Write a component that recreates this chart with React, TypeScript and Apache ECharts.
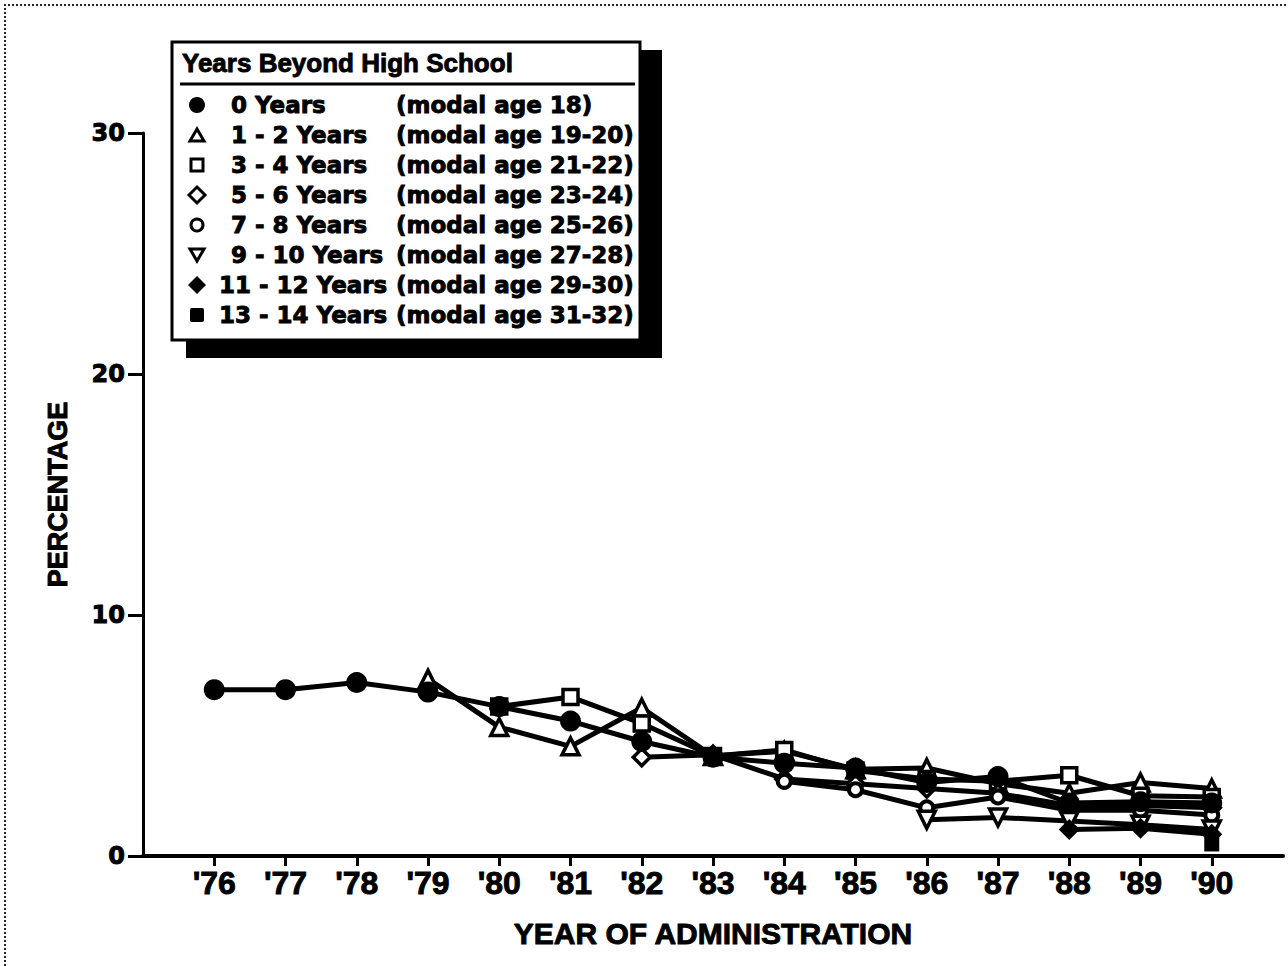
import React, { useEffect, useRef } from "react";
import * as echarts from "echarts";

// ---------- data ----------
const years = ["'76", "'77", "'78", "'79", "'80", "'81", "'82", "'83", "'84", "'85", "'86", "'87", "'88", "'89", "'90"];
const yTicks = [0, 10, 20, 30];

const zeroYears = [6.9, 6.9, 7.2, 6.8, 6.2, 5.6, 4.75, 4.1, 3.85, 3.65, 3.05, 3.3, 2.2, 2.25, 2.2];
const oneTwoYears = [null, null, null, 7.35, 5.35, 4.55, 6.15, 4.15, 4.35, 3.6, 3.65, 3.0, 2.6, 3.05, 2.8];
const threeFourYears = [null, null, null, null, 6.2, 6.6, 5.5, 4.15, 4.4, 3.55, 3.2, 3.1, 3.35, 2.5, 2.45];
const fiveSixYears = [null, null, null, null, null, null, 4.1, 4.2, 3.2, 3.0, 2.8, 2.6, 2.1, 2.1, 2.0];
const sevenEightYears = [null, null, null, null, null, null, null, null, 3.1, 2.75, 2.0, 2.45, 1.9, 1.9, 1.7];
const nineTenYears = [null, null, null, null, null, null, null, null, null, null, 1.5, 1.6, 1.45, 1.3, 1.1];
const elevenTwelveYears = [null, null, null, null, null, null, null, null, null, null, null, null, 1.1, 1.15, 0.9];
const thirteenFourteenYears = [null, null, null, null, null, null, null, null, null, null, null, null, null, null, 0.5];

const groupNames = ["0 Years", "1 - 2 Years", "3 - 4 Years", "5 - 6 Years", "7 - 8 Years", "9 - 10 Years", "11 - 12 Years", "13 - 14 Years"];
const modalAges = ["(modal age 18)", "(modal age 19-20)", "(modal age 21-22)", "(modal age 23-24)", "(modal age 25-26)", "(modal age 27-28)", "(modal age 29-30)", "(modal age 31-32)"];
const groupValues = [zeroYears, oneTwoYears, threeFourYears, fiveSixYears, sevenEightYears, nineTenYears, elevenTwelveYears, thirteenFourteenYears];

const legendTitle = "Years Beyond High School";
const xTitle = "YEAR OF ADMINISTRATION";
const yTitle = "PERCENTAGE";

// ---------- styles ----------
const BLACK = "#000";
const WHITE = "#fff";
const markerStyles = [
  { symbol: "circle", size: 21, fill: BLACK, rotate: 0, border: 0 },
  { symbol: "triangle", size: 17, fill: WHITE, rotate: 0, border: 3.5 },
  { symbol: "rect", size: 15, fill: WHITE, rotate: 0, border: 3.5 },
  { symbol: "diamond", size: 17, fill: WHITE, rotate: 0, border: 3.5 },
  { symbol: "circle", size: 13, fill: WHITE, rotate: 0, border: 4 },
  { symbol: "triangle", size: 17, fill: WHITE, rotate: 180, border: 3.5 },
  { symbol: "diamond", size: 21, fill: BLACK, rotate: 0, border: 0 },
  { symbol: "rect", size: 15, fill: BLACK, rotate: 0, border: 0 },
];
const zOrder = [9, 3, 4, 5, 6, 7, 8, 8];

function legendMarker(i: number, cx: number, cy: number): any {
  const stroke = { stroke: BLACK, lineWidth: 3, fill: WHITE };
  const solid = { fill: BLACK };
  switch (i) {
    case 0:
      return { type: "circle", shape: { cx, cy, r: 8 }, style: solid };
    case 1:
      return { type: "polygon", shape: { points: [[cx - 7, cy + 6], [cx + 7, cy + 6], [cx, cy - 6]] }, style: stroke };
    case 2:
      return { type: "rect", shape: { x: cx - 6, y: cy - 6, width: 12, height: 12 }, style: stroke };
    case 3:
      return { type: "polygon", shape: { points: [[cx, cy - 8], [cx + 8, cy], [cx, cy + 8], [cx - 8, cy]] }, style: stroke };
    case 4:
      return { type: "circle", shape: { cx, cy, r: 6 }, style: stroke };
    case 5:
      return { type: "polygon", shape: { points: [[cx - 7, cy - 6], [cx + 7, cy - 6], [cx, cy + 6]] }, style: stroke };
    case 6:
      return { type: "polygon", shape: { points: [[cx, cy - 9], [cx + 9, cy], [cx, cy + 9], [cx - 9, cy]] }, style: solid };
    default:
      return { type: "rect", shape: { x: cx - 7, y: cy - 7, width: 14, height: 14, r: 2 }, style: solid };
  }
}

export default function App() {
  const ref = useRef<HTMLDivElement>(null);

  useEffect(() => {
    if (!ref.current) return;
    const chart = echarts.init(ref.current, null, { renderer: "svg" });

    const categories = ["", ...years, ""];

    const series = groupValues.map((vals, i) => {
      const m = markerStyles[i];
      return {
        name: groupNames[i],
        type: "line",
        data: [null, ...vals, null],
        symbol: m.symbol,
        symbolSize: m.size,
        symbolRotate: m.rotate,
        showAllSymbol: true,
        connectNulls: false,
        z: zOrder[i],
        lineStyle: { color: BLACK, width: 5 },
        itemStyle: { color: m.fill, borderColor: BLACK, borderWidth: m.border },
        emphasis: { disabled: true },
      };
    });

    // heavier text for axis labels (label text style) and graphic texts (element style)
    const heavy = { textBorderColor: BLACK, textBorderWidth: 0.9 };
    const heavyG = { stroke: BLACK, lineWidth: 0.9 };

    // custom legend box
    const lx = 172, ly = 42, lw = 468, lh = 298;
    const legendEls: any[] = [
      { type: "rect", shape: { x: lx + 14, y: ly + 8, width: lw + 8, height: lh + 10 }, style: { fill: BLACK } },
      { type: "rect", shape: { x: lx, y: ly, width: lw, height: lh }, style: { fill: WHITE, stroke: BLACK, lineWidth: 3 } },
      {
        type: "text", x: lx + 10, y: ly + 21,
        style: { text: legendTitle, fontFamily: "Liberation Sans", fontWeight: "bold", fontSize: 26, fill: BLACK, verticalAlign: "middle", align: "left", ...heavyG },
      },
      { type: "line", shape: { x1: lx + 8, y1: ly + 42, x2: lx + lw - 5, y2: ly + 42 }, style: { stroke: BLACK, lineWidth: 3 } },
    ];
    groupNames.forEach((name, i) => {
      const cy = 105 + 30 * i;
      legendEls.push(legendMarker(i, 197, cy));
      legendEls.push({
        type: "text", x: i >= 6 ? 219 : 231, y: cy,
        style: { text: name, fontFamily: "DejaVu Sans", fontWeight: "bold", fontSize: 23, fill: BLACK, verticalAlign: "middle", align: "left", ...heavyG },
      });
      legendEls.push({
        type: "text", x: 396, y: cy,
        style: { text: modalAges[i], fontFamily: "DejaVu Sans", fontWeight: "bold", fontSize: 23, fill: BLACK, verticalAlign: "middle", align: "left", ...heavyG },
      });
    });

    const option: any = {
      animation: false,
      backgroundColor: WHITE,
      grid: { left: 143, right: 5, top: 133, bottom: 110, containLabel: false },
      xAxis: {
        type: "category",
        data: categories,
        boundaryGap: false,
        axisLine: { show: true, lineStyle: { color: BLACK, width: 4 } },
        axisTick: { show: true, length: 10, lineStyle: { color: BLACK, width: 3 }, interval: (_i: number, v: string) => v !== "" },
        axisLabel: { interval: 0, color: BLACK, fontSize: 32, fontWeight: "bold", fontFamily: "Liberation Sans", margin: 11, ...heavy },
        splitLine: { show: false },
        name: xTitle,
        nameLocation: "middle",
        nameGap: 62,
        nameTextStyle: { color: BLACK, fontSize: 30, fontWeight: "bold", fontFamily: "Liberation Sans", ...heavy },
      },
      yAxis: {
        type: "value",
        min: yTicks[0],
        max: yTicks[yTicks.length - 1],
        interval: yTicks[1] - yTicks[0],
        axisLine: { show: true, lineStyle: { color: BLACK, width: 3 } },
        axisTick: { show: true, length: 15, lineStyle: { color: BLACK, width: 3 } },
        axisLabel: { color: BLACK, fontSize: 24, fontWeight: "bold", fontFamily: "DejaVu Sans", margin: 18, ...heavy },
        splitLine: { show: false },
        name: yTitle,
        nameLocation: "middle",
        nameRotate: 90,
        nameGap: 72,
        nameTextStyle: { color: BLACK, fontSize: 27, fontWeight: "bold", fontFamily: "Liberation Sans", ...heavy },
      },
      series,
      graphic: [
        { type: "line", shape: { x1: 4, y1: 5, x2: 1288, y2: 5 }, style: { stroke: "#222", lineWidth: 2, lineDash: [2, 2] }, z: 0 },
        { type: "line", shape: { x1: 5, y1: 4, x2: 5, y2: 966 }, style: { stroke: "#222", lineWidth: 2, lineDash: [2, 2] }, z: 0 },
        { type: "group", children: legendEls, z: 100 },
      ],
    };

    chart.setOption(option);
    return () => chart.dispose();
  }, []);

  return <div ref={ref} style={{ position: "absolute", left: 0, top: 0, width: 1288, height: 966, background: "#fff" }} />;
}
